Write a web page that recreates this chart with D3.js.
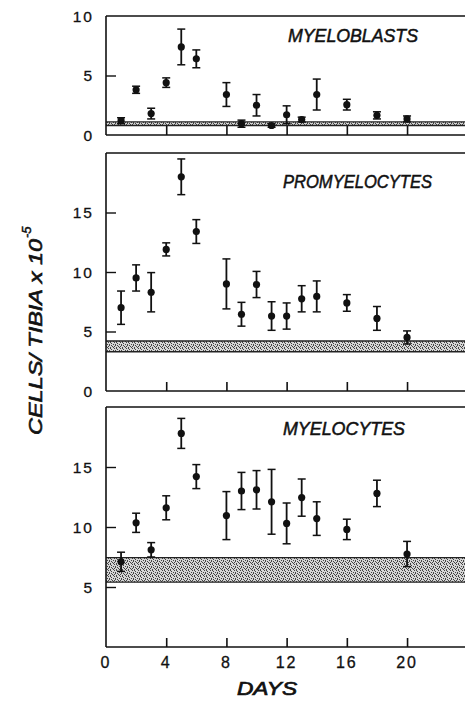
<!DOCTYPE html>
<html>
<head>
<meta charset="utf-8">
<script src="https://cdn.jsdelivr.net/npm/d3@7"></script>
<style>
  html, body { margin: 0; padding: 0; background: #fff; }
  svg { display: block; }
  text { font-family: "Liberation Sans", Arial, sans-serif; fill: #111; }
</style>
</head>
<body>
<svg id="chart" width="465" height="701"></svg>
<script>
// Sampling days after treatment
const days = [1, 2, 3, 4, 5, 6, 8, 9, 10, 11, 12, 13, 14, 16, 18, 20];

// Myeloblasts (cells/tibia x 10^-5): mean and standard error
const myeloblastMean = [1.2, 3.8, 1.8, 4.4, 7.4, 6.4, 3.4, 0.95, 2.5, 0.8, 1.7, 1.3, 3.4, 2.55, 1.65, 1.35];
const myeloblastErr  = [0.25, 0.3, 0.45, 0.4, 1.5, 0.75, 1.0, 0.3, 0.9, 0.15, 0.75, 0.2, 1.3, 0.45, 0.3, 0.25];

// Promyelocytes
const promyelocyteMean = [7.0, 9.5, 8.3, 11.9, 18.0, 13.4, 9.0, 6.45, 8.95, 6.3, 6.3, 7.75, 7.95, 7.4, 6.1, 4.5];
const promyelocyteErr  = [1.4, 1.1, 1.65, 0.55, 1.5, 1.0, 2.1, 1.0, 1.1, 1.2, 1.1, 1.1, 1.3, 0.7, 1.0, 0.55];

// Myelocytes
const myelocyteMean = [7.1, 10.35, 8.1, 11.6, 17.8, 14.2, 10.95, 13.0, 13.1, 12.1, 10.3, 12.45, 10.7, 9.8, 12.8, 7.75];
const myelocyteErr  = [0.8, 0.8, 0.6, 1.0, 1.25, 1.0, 2.0, 1.55, 1.6, 2.7, 1.7, 1.55, 1.4, 0.85, 1.1, 1.05];

// Normal (control) range for each cell type: [low, high]
const myeloblastNormal   = [0.8, 1.1];
const promyelocyteNormal = [3.3, 4.2];
const myelocyteNormal    = [5.4, 7.45];

// Axis ticks
const dayTicks = [0, 4, 8, 12, 16, 20];
const myeloblastTicks   = [0, 5, 10];
const promyelocyteTicks = [0, 5, 10, 15];
const myelocyteTicks    = [5, 10, 15];

const panelNames = ["MYELOBLASTS", "PROMYELOCYTES", "MYELOCYTES"];

const svg = d3.select("#chart");

// Stippled fill for the normal range bands
const defs = svg.append("defs");
const pat = defs.append("pattern")
  .attr("id", "stipple")
  .attr("patternUnits", "userSpaceOnUse")
  .attr("width", 6).attr("height", 6);
pat.append("rect").attr("width", 6).attr("height", 6).attr("fill", "#d6d6d6");
[[0.5,0.5],[3.5,1.5],[1.5,3.5],[4.5,4.5],[2.5,5.5],[5.5,2.5],[0.5,4.5],[3.5,3.5],[2.5,0.5],[5.5,5.5],[1.5,2.5]].forEach(([cx, cy]) => {
  pat.append("rect").attr("x", cx - 0.5).attr("y", cy - 0.5)
    .attr("width", 1).attr("height", 1).attr("fill", "#444");
});

const x = d3.scaleLinear().domain([0, 23.85]).range([106, 465]);

const panels = [
  { name: panelNames[0], mean: myeloblastMean, err: myeloblastErr, normal: myeloblastNormal,
    ticks: myeloblastTicks, domain: [0, 10], top: 16, bottom: 135, titleX: 288, titleY: 42, titleW: 130 },
  { name: panelNames[1], mean: promyelocyteMean, err: promyelocyteErr, normal: promyelocyteNormal,
    ticks: promyelocyteTicks, domain: [0, 20], top: 153, bottom: 391, titleX: 283, titleY: 188, titleW: 149 },
  { name: panelNames[2], mean: myelocyteMean, err: myelocyteErr, normal: myelocyteNormal,
    ticks: myelocyteTicks, domain: [0, 20], top: 407, bottom: 647, titleX: 283, titleY: 435, titleW: 122 }
];

panels.forEach((p, i) => {
  const y = d3.scaleLinear().domain(p.domain).range([p.bottom, p.top]);
  const g = svg.append("g");

  // normal range band
  g.append("rect")
    .attr("x", x(0)).attr("width", x(23.85) - x(0))
    .attr("y", y(p.normal[1])).attr("height", y(p.normal[0]) - y(p.normal[1]))
    .attr("fill", "url(#stipple)");
  p.normal.forEach(v => {
    g.append("line").attr("x1", x(0)).attr("x2", x(23.85))
      .attr("y1", y(v)).attr("y2", y(v))
      .attr("stroke", "#222").attr("stroke-width", 1.3);
  });

  // frame: left axis, bottom axis and top rule
  const frame = g.append("g").attr("stroke", "#111").attr("stroke-width", 1.6).attr("fill", "none");
  frame.append("line").attr("x1", x(0)).attr("x2", x(0)).attr("y1", y(p.domain[1])).attr("y2", y(0));
  frame.append("line").attr("x1", x(0)).attr("x2", x(23.85)).attr("y1", y(0)).attr("y2", y(0));
  frame.append("line").attr("x1", x(0)).attr("x2", x(23.85)).attr("y1", y(p.domain[1])).attr("y2", y(p.domain[1]));

  // inward x ticks
  const xAxis = d3.axisTop(x).tickValues(dayTicks.filter(d => d > 0)).tickSize(9).tickFormat("");
  const xa = g.append("g").attr("transform", `translate(0,${y(0)})`).call(xAxis);
  xa.select(".domain").remove();
  xa.selectAll(".tick line").attr("stroke", "#111").attr("stroke-width", 1.6);

  // inward y ticks with labels on the outside
  const yAxis = d3.axisRight(y).tickValues(p.ticks).tickSize(10).tickFormat("");
  const ya = g.append("g").attr("transform", `translate(${x(0)},0)`).call(yAxis);
  ya.select(".domain").remove();
  ya.selectAll(".tick line")
    .attr("stroke", "#111").attr("stroke-width", 1.4)
    .attr("display", d => (d === 0 || d === p.domain[1]) ? "none" : null);

  g.selectAll(".ylab").data(p.ticks).join("text")
    .attr("class", "ylab")
    .attr("x", 94).attr("y", d => y(d))
    .attr("dy", "0.36em")
    .attr("text-anchor", "end")
    .attr("font-size", 15.5)
    .attr("letter-spacing", 2)
    .attr("stroke", "#111").attr("stroke-width", 0.3)
    .text(d => d);

  // error bars
  const bars = g.append("g").attr("stroke", "#111");
  days.forEach((d, k) => {
    const cx = x(d), hi = y(p.mean[k] + p.err[k]), lo = y(p.mean[k] - p.err[k]);
    bars.append("line").attr("x1", cx).attr("x2", cx).attr("y1", hi).attr("y2", lo).attr("stroke-width", 1.8);
    bars.append("line").attr("x1", cx - 4).attr("x2", cx + 4).attr("y1", hi).attr("y2", hi).attr("stroke-width", 1.5);
    bars.append("line").attr("x1", cx - 4).attr("x2", cx + 4).attr("y1", lo).attr("y2", lo).attr("stroke-width", 1.5);
  });

  // means
  g.selectAll(".pt").data(days).join("circle")
    .attr("class", "pt")
    .attr("cx", d => x(d))
    .attr("cy", (d, k) => y(p.mean[k]))
    .attr("r", 3.6)
    .attr("fill", "#111");

  // panel title
  g.append("text")
    .attr("x", p.titleX).attr("y", p.titleY)
    .attr("font-size", 18).attr("font-style", "italic")
    .attr("stroke", "#111").attr("stroke-width", 0.5)
    .attr("textLength", p.titleW).attr("lengthAdjust", "spacingAndGlyphs")
    .text(p.name);

  // day labels under the lowest panel
  if (i === panels.length - 1) {
    g.selectAll(".xlab").data(dayTicks).join("text")
      .attr("class", "xlab")
      .attr("x", d => x(d)).attr("y", y(0) + 21)
      .attr("text-anchor", "middle")
      .attr("font-size", 16)
      .attr("letter-spacing", 2)
      .attr("stroke", "#111").attr("stroke-width", 0.3)
      .text(d => d);
  }
});

// axis titles
svg.append("text")
  .attr("x", 237).attr("y", 695)
  .attr("font-size", 18).attr("font-style", "italic")
  .attr("stroke", "#111").attr("stroke-width", 0.7)
  .attr("textLength", 60).attr("lengthAdjust", "spacingAndGlyphs")
  .text("DAYS");

svg.append("text")
  .attr("transform", "translate(42,435) rotate(-90)")
  .attr("font-size", 18).attr("font-style", "italic")
  .attr("stroke", "#111").attr("stroke-width", 0.6)
  .attr("textLength", 196).attr("lengthAdjust", "spacingAndGlyphs")
  .text("CELLS/ TIBIA x 10");
svg.append("text")
  .attr("transform", "translate(31,238) rotate(-90)")
  .attr("font-size", 13).attr("font-style", "italic")
  .attr("stroke", "#111").attr("stroke-width", 0.5)
  .text("-5");
</script>
</body>
</html>
